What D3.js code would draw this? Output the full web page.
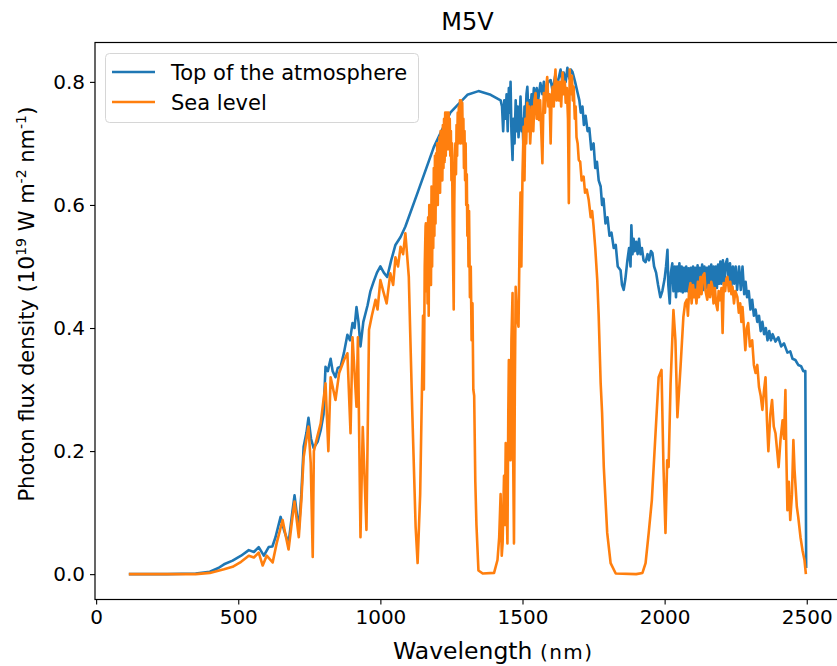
<!DOCTYPE html>
<html>
<head>
<meta charset="utf-8">
<script src="https://cdn.jsdelivr.net/npm/d3@7"></script>
<style>
  body { margin: 0; background: #fff; }
  svg { font-family: "DejaVu Sans", sans-serif; }
</style>
</head>
<body>
<svg id="chart" width="837" height="666"></svg>
<script>
// [wavelength nm, photon flux density]
var toaSpectrum = [
  [115,0],[250,0],[350,0.001],[400,0.004],[430,0.01],[450,0.016],[480,0.022],[510,0.03],
  [537,0.039],[555,0.036],[572,0.044],[590,0.03],[607,0.044],[620,0.045],[631,0.06],[649,0.093],
  [662,0.07],[677,0.05],[690,0.1],[698,0.128],[713,0.072],[722,0.13],[730,0.207],[740,0.23],
  [747,0.254],[756,0.22],[765,0.205],[779,0.215],[790,0.234],[800,0.26],[807,0.337],[815,0.33],
  [825,0.35],[832,0.33],[842,0.32],[850,0.335],[860,0.337],[872,0.36],[884,0.389],[893,0.38],
  [902,0.408],[909,0.4],[916,0.434],[923,0.41],[930,0.37],[940,0.41],[955,0.437],[965,0.46],
  [976,0.475],[988,0.49],[1000,0.5],[1012,0.49],[1024,0.483],[1038,0.51],[1053,0.535],
  [1071,0.548],[1088,0.565],[1131,0.62],[1188,0.694],[1246,0.75],[1306,0.779],[1345,0.785],
  [1388,0.779],[1423,0.77],[1428,0.76],[1432,0.72],[1436,0.77],[1440,0.74],[1444,0.78],
  [1448,0.72],[1452,0.79],[1456,0.75],[1458,0.8],[1461,0.72],[1465,0.673],[1468,0.74],
  [1472,0.7],[1476,0.77],[1480,0.72],[1483,0.76],[1486,0.71],[1490,0.74],[1493,0.776],
  [1497,0.72],[1500,0.74],[1503,0.695],[1507,0.76],[1510,0.73],[1514,0.78],[1517,0.792],
  [1521,0.75],[1525,0.77],[1528,0.754],[1532,0.78],[1536,0.76],[1540,0.79],[1545,0.77],
  [1550,0.79],[1555,0.77],[1563,0.798],[1570,0.78],[1575,0.8],[1581,0.77],[1590,0.8],
  [1599,0.803],[1606,0.785],[1615,0.81],[1622,0.795],[1634,0.82],[1640,0.8],[1645,0.815],
  [1652,0.8],[1658,0.823],[1665,0.805],[1670,0.82],[1676,0.816],[1685,0.8],[1694,0.782],
  [1700,0.77],[1705,0.75],[1711,0.76],[1716,0.73],[1722,0.745],[1729,0.72],[1735,0.725],
  [1742,0.69],[1750,0.7],[1756,0.66],[1762,0.67],[1768,0.64],[1775,0.63],[1780,0.6],
  [1785,0.61],[1792,0.57],[1799,0.58],[1806,0.55],[1813,0.555],[1821,0.53],[1828,0.535],
  [1835,0.5],[1845,0.494],[1850,0.47],[1856,0.462],[1862,0.48],[1869,0.51],[1875,0.53],
  [1880,0.5],[1883,0.567],[1887,0.52],[1891,0.545],[1895,0.525],[1900,0.54],[1905,0.52],
  [1910,0.545],[1915,0.52],[1920,0.53],[1926,0.51],[1933,0.507],[1940,0.52],[1945,0.51],
  [1952,0.525],[1957,0.522],[1963,0.5],[1970,0.49],[1977,0.47],[1985,0.45],[1992,0.46],
  [2000,0.48],[2005,0.5],[2010,0.527],[2013,0.47],[2018,0.44],[2022,0.49],[2027,0.505],
  [2031,0.46],[2036,0.5],[2040,0.45],[2044,0.5],[2048,0.46],[2052,0.505],[2056,0.46],
  [2060,0.5],[2064,0.458],[2068,0.498],[2072,0.46],[2076,0.5],[2080,0.46],[2084,0.497],
  [2088,0.458],[2092,0.498],[2096,0.462],[2100,0.5],[2104,0.46],[2108,0.498],[2112,0.465],
  [2116,0.502],[2120,0.46],[2124,0.498],[2128,0.466],[2132,0.503],[2136,0.462],[2140,0.5],
  [2144,0.466],[2148,0.498],[2152,0.462],[2156,0.5],[2160,0.468],[2164,0.503],[2168,0.462],
  [2172,0.5],[2176,0.468],[2180,0.5],[2184,0.465],[2188,0.503],[2192,0.472],[2196,0.508],
  [2200,0.472],[2205,0.51],[2210,0.472],[2215,0.505],[2220,0.512],[2225,0.472],[2230,0.505],
  [2235,0.468],[2240,0.5],[2245,0.472],[2250,0.5],[2255,0.462],[2262,0.5],[2268,0.462],
  [2274,0.5],[2280,0.455],[2285,0.475],[2290,0.45],[2296,0.46],[2302,0.43],[2308,0.446],
  [2314,0.42],[2320,0.43],[2326,0.41],[2332,0.42],[2338,0.395],[2344,0.41],[2350,0.39],
  [2356,0.4],[2362,0.38],[2368,0.395],[2374,0.38],[2380,0.39],[2390,0.378],[2400,0.385],
  [2410,0.37],[2420,0.375],[2432,0.36],[2442,0.362],[2450,0.35],[2460,0.348],[2470,0.34],
  [2480,0.338],[2488,0.33],[2495,0.33],[2498,0.01]
];

var seaSpectrum = [
  [115,0],[350,0],[400,0.002],[450,0.008],[480,0.012],[510,0.02],[537,0.03],[555,0.027],
  [572,0.035],[586,0.014],[600,0.03],[621,0.019],[635,0.05],[656,0.088],[668,0.06],[677,0.04],
  [690,0.09],[698,0.118],[713,0.06],[722,0.12],[730,0.19],[740,0.22],[747,0.24],[755,0.18],
  [762,0.028],[766,0.2],[778,0.223],[790,0.245],[807,0.31],[817,0.2],[825,0.32],[842,0.283],
  [855,0.327],[872,0.348],[884,0.359],[895,0.229],[902,0.385],[916,0.272],[921,0.385],[930,0.06],
  [938,0.239],[951,0.072],[960,0.397],[970,0.42],[983,0.446],[990,0.43],[1000,0.478],
  [1010,0.46],[1022,0.44],[1035,0.489],[1045,0.47],[1053,0.515],[1062,0.5],[1071,0.532],
  [1080,0.52],[1088,0.554],[1100,0.483],[1105,0.392],[1112,0.267],[1124,0.077],[1131,0.018],
  [1140,0.13],[1148,0.348],[1150,0.42],[1153,0.3],[1156,0.5],[1159,0.565],[1160,0.57],
  [1162,0.46],[1164,0.55],[1166,0.44],[1168,0.58],[1170,0.42],[1172,0.6],[1174,0.5],
  [1176,0.59],[1178,0.47],[1180,0.63],[1182,0.5],[1184,0.62],[1186,0.53],[1188,0.66],
  [1190,0.55],[1192,0.68],[1194,0.57],[1196,0.684],[1198,0.6],[1200,0.7],[1202,0.6],
  [1204,0.7],[1206,0.63],[1208,0.71],[1210,0.62],[1212,0.72],[1214,0.65],[1216,0.72],
  [1218,0.64],[1220,0.73],[1222,0.66],[1224,0.74],[1226,0.67],[1228,0.75],[1230,0.68],
  [1232,0.75],[1234,0.69],[1236,0.75],[1238,0.7],[1240,0.75],[1242,0.69],[1244,0.74],
  [1246,0.68],[1248,0.72],[1250,0.64],[1252,0.7],[1254,0.58],[1256,0.5],[1258,0.43],
  [1260,0.6],[1262,0.68],[1264,0.7],[1266,0.65],[1268,0.73],[1270,0.68],[1272,0.75],
  [1274,0.7],[1276,0.76],[1278,0.71],[1280,0.77],[1282,0.7],[1284,0.77],[1286,0.72],
  [1288,0.766],[1290,0.7],[1292,0.74],[1294,0.66],[1296,0.72],[1298,0.64],[1300,0.7],
  [1302,0.6],[1304,0.65],[1306,0.55],[1308,0.6],[1310,0.5],[1312,0.59],[1315,0.45],
  [1318,0.5],[1321,0.38],[1324,0.44],[1327,0.3],[1330,0.29],[1334,0.15],[1338,0.08],
  [1345,0.006],[1360,0.001],[1400,0.002],[1412,0.023],[1418,0.06],
  [1423,0.13],[1427,0.03],[1430,0.05],[1435,0.16],[1438,0.08],[1441,0.213],[1444,0.12],
  [1447,0.05],[1450,0.26],[1452,0.348],[1455,0.2],[1458,0.185],[1461,0.38],[1465,0.457],
  [1467,0.2],[1470,0.05],[1473,0.3],[1476,0.467],[1480,0.42],[1486,0.402],[1490,0.55],
  [1493,0.62],[1496,0.5],[1500,0.65],[1504,0.727],[1507,0.64],[1510,0.74],[1513,0.7],
  [1517,0.766],[1520,0.72],[1524,0.76],[1527,0.7],[1530,0.727],[1534,0.76],[1538,0.72],
  [1542,0.77],[1546,0.782],[1550,0.74],[1554,0.77],[1558,0.738],[1562,0.77],[1566,0.72],
  [1570,0.668],[1573,0.75],[1575,0.782],[1579,0.75],[1583,0.79],[1587,0.808],[1591,0.76],
  [1595,0.78],[1599,0.7],[1602,0.77],[1606,0.792],[1610,0.76],[1613,0.8],[1616,0.82],
  [1620,0.77],[1624,0.8],[1628,0.77],[1632,0.8],[1636,0.76],[1641,0.815],[1645,0.78],
  [1649,0.8],[1652,0.766],[1656,0.79],[1660,0.74],[1663,0.603],[1666,0.82],[1670,0.78],
  [1674,0.81],[1677,0.77],[1680,0.792],[1684,0.74],[1687,0.76],[1690,0.71],[1694,0.7],
  [1698,0.673],[1703,0.67],[1708,0.64],[1715,0.646],[1720,0.62],[1726,0.625],[1733,0.608],
  [1740,0.58],[1745,0.59],[1750,0.565],[1756,0.53],[1763,0.478],[1768,0.42],[1775,0.31],
  [1780,0.262],[1786,0.174],[1798,0.067],[1810,0.018],[1828,0.001],[1900,0],[1922,0.002],
  [1933,0.018],[1944,0.067],[1955,0.12],[1968,0.229],[1979,0.32],[1989,0.332],[1996,0.174],
  [2003,0.067],[2009,0.185],[2014,0.174],[2021,0.31],[2031,0.429],[2038,0.38],[2045,0.255],
  [2056,0.337],[2066,0.418],[2072,0.44],[2078,0.446],[2082,0.42],[2086,0.46],[2091,0.473],
  [2095,0.44],[2100,0.47],[2104,0.45],[2108,0.462],[2112,0.44],[2117,0.475],[2121,0.45],
  [2126,0.483],[2130,0.455],[2135,0.485],[2140,0.489],[2144,0.46],[2150,0.446],[2155,0.47],
  [2160,0.45],[2164,0.475],[2168,0.467],[2172,0.44],[2177,0.465],[2181,0.44],[2186,0.429],
  [2190,0.46],[2195,0.445],[2200,0.465],[2204,0.392],[2208,0.473],[2213,0.46],[2217,0.48],
  [2221,0.483],[2226,0.46],[2231,0.475],[2235,0.455],[2239,0.467],[2244,0.44],[2249,0.46],
  [2256,0.45],[2261,0.425],[2266,0.44],[2270,0.41],[2274,0.434],[2279,0.4],[2284,0.364],
  [2289,0.4],[2294,0.408],[2300,0.37],[2308,0.38],[2314,0.34],[2320,0.327],[2326,0.34],
  [2332,0.304],[2338,0.29],[2344,0.267],[2350,0.3],[2355,0.32],[2360,0.25],[2365,0.2],
  [2372,0.26],[2378,0.283],[2384,0.24],[2390,0.229],[2396,0.2],[2401,0.174],[2408,0.22],
  [2415,0.25],[2420,0.22],[2425,0.299],[2428,0.2],[2432,0.104],[2437,0.15],[2442,0.088],
  [2448,0.13],[2453,0.218],[2457,0.17],[2460,0.148],[2465,0.11],[2470,0.093],[2478,0.06],
  [2485,0.039],[2492,0.023],[2497,0]
];

var seriesNames = ["Top of the atmosphere", "Sea level"];
var seriesColors = ["#1f77b4", "#ff7f0e"];
var xTicks = [0, 500, 1000, 1500, 2000, 2500];
var yTicks = [0, 0.2, 0.4, 0.6, 0.8];

var LEFT = 95, RIGHT = 840, TOP = 42.5, BOTTOM = 599.5;

var svg = d3.select("#chart");

var xScale = d3.scaleLinear().domain([-4, 2617]).range([LEFT, RIGHT]);
var yScale = d3.scaleLinear().domain([-0.0412, 0.864]).range([BOTTOM, TOP]);

svg.append("defs").append("clipPath").attr("id", "plotClip")
  .append("rect")
  .attr("x", LEFT).attr("y", TOP)
  .attr("width", RIGHT - LEFT).attr("height", BOTTOM - TOP);

var line = d3.line()
  .x(function(d){ return xScale(d[0]); })
  .y(function(d){ return yScale(d[1]); });

var plot = svg.append("g").attr("clip-path", "url(#plotClip)");
[toaSpectrum, seaSpectrum].forEach(function(data, i){
  plot.append("path")
    .attr("d", line(data))
    .attr("fill", "none")
    .attr("stroke", seriesColors[i])
    .attr("stroke-width", 2.6)
    .attr("stroke-linejoin", "round");
});

// axes
var xAxis = svg.append("g")
  .attr("transform", "translate(0," + BOTTOM + ")")
  .call(d3.axisBottom(xScale).tickValues(xTicks).tickSize(5).tickPadding(5).tickFormat(d3.format("d")));
var yAxis = svg.append("g")
  .attr("transform", "translate(" + LEFT + ",0)")
  .call(d3.axisLeft(yScale).tickValues(yTicks).tickSize(5).tickPadding(5).tickFormat(d3.format(".1f")));

[xAxis, yAxis].forEach(function(ax){
  ax.select(".domain").remove();
  ax.selectAll("line").attr("stroke", "#000").attr("stroke-width", 1.1);
  ax.selectAll("text").attr("fill", "#000").style("font-size", "20px").style("font-family", "DejaVu Sans");
});

// spines
svg.append("rect")
  .attr("x", LEFT).attr("y", TOP)
  .attr("width", RIGHT - LEFT).attr("height", BOTTOM - TOP)
  .attr("fill", "none").attr("stroke", "#000").attr("stroke-width", 1.2);

// title
svg.append("text")
  .attr("x", (LEFT + RIGHT) / 2).attr("y", 30)
  .attr("text-anchor", "middle")
  .style("font-size", "24px")
  .text("M5V");

// x label
var xl = svg.append("text")
  .attr("x", 393).attr("y", 659);
xl.append("tspan").style("font-size", "23.5px").text("Wavelength ");
xl.append("tspan").style("font-size", "20px").style("letter-spacing", "1.5px").text("(nm)");

// y label
var yl = svg.append("text")
  .attr("transform", "translate(34,304) rotate(-90)")
  .attr("text-anchor", "middle");
yl.append("tspan").style("font-size", "21px").text("Photon flux density ");
yl.append("tspan").style("font-size", "22px").text("(10");
yl.append("tspan").style("font-size", "14px").attr("dy", -8).text("19");
yl.append("tspan").style("font-size", "21px").attr("dy", 8).text(" W m");
yl.append("tspan").style("font-size", "14px").attr("dy", -8).text("-2");
yl.append("tspan").style("font-size", "21px").attr("dy", 8).text(" nm");
yl.append("tspan").style("font-size", "14px").attr("dy", -8).text("-1");
yl.append("tspan").style("font-size", "22px").attr("dy", 8).text(")");

// legend
var legend = svg.append("g");
legend.append("rect")
  .attr("x", 105.5).attr("y", 53.5)
  .attr("width", 313).attr("height", 69)
  .attr("rx", 4)
  .attr("fill", "#fff").attr("fill-opacity", 0.8)
  .attr("stroke", "#d6d6d6").attr("stroke-width", 1);
seriesNames.forEach(function(name, i){
  var yy = 72 + i * 30;
  legend.append("line")
    .attr("x1", 112).attr("x2", 155).attr("y1", yy).attr("y2", yy)
    .attr("stroke", seriesColors[i]).attr("stroke-width", 2.6);
  legend.append("text")
    .attr("x", 171).attr("y", yy + 7.5)
    .style("font-size", "21px")
    .attr("fill", "#000")
    .text(name);
});
</script>
</body>
</html>
